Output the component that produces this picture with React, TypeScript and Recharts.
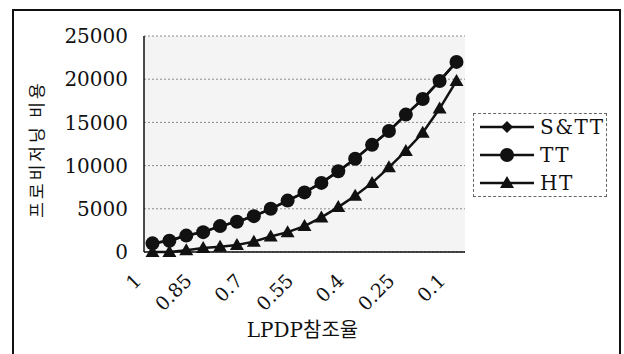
import React from 'react';
import { LineChart, Line, XAxis, YAxis, CartesianGrid } from 'recharts';

// LPDP reference rate (x categories) and provisioning cost per scheme
const rates = ['1', '0.95', '0.9', '0.85', '0.8', '0.75', '0.7', '0.65', '0.6', '0.55', '0.5', '0.45', '0.4', '0.35', '0.3', '0.25', '0.2', '0.15', '0.1'];
const sttCost = [1000, 1300, 1900, 2300, 3000, 3500, 4150, 5000, 5950, 6900, 8000, 9350, 10800, 12400, 14000, 15900, 17700, 19800, 22000];
const ttCost = [1000, 1300, 1900, 2300, 3000, 3500, 4150, 5000, 5950, 6900, 8000, 9350, 10800, 12400, 14000, 15900, 17700, 19800, 22000];
const htCost = [0, 0, 200, 450, 600, 800, 1200, 1800, 2300, 3000, 4000, 5200, 6500, 8000, 9800, 11700, 13800, 16600, 19800];
const costTicks = [0, 5000, 10000, 15000, 20000, 25000];
const seriesNames = ['S&TT', 'TT', 'HT'];

const data = rates.map((rate, i) => ({ rate, stt: sttCost[i], tt: ttCost[i], ht: htCost[i] }));

const SERIF = '"DejaVu Serif", "Liberation Serif", serif';
const KR = '"Noto Sans CJK KR", sans-serif';
const INK = '#111';

const diamond = (cx: number, cy: number) => `${cx},${cy - 6} ${cx + 6},${cy} ${cx},${cy + 6} ${cx - 6},${cy}`;
const triangle = (cx: number, cy: number) => `${cx},${cy - 7} ${cx + 7},${cy + 5} ${cx - 7},${cy + 5}`;

const DiamondDot = (p: any) => <polygon key={`d${p.index}`} points={diamond(p.cx, p.cy)} fill={INK} />;
const CircleDot = (p: any) => <circle key={`c${p.index}`} cx={p.cx} cy={p.cy} r={7} fill={INK} />;
const TriangleDot = (p: any) => <polygon key={`t${p.index}`} points={triangle(p.cx, p.cy)} fill={INK} />;

const RateTick = (p: any) => {
  const x = p.x - 10;
  const y = p.y + 22;
  return (
    <text x={x} y={y} transform={`rotate(-45 ${x} ${y})`} textAnchor="end" fontFamily={SERIF} fontSize={19} fill={INK}>
      {p.payload.value}
    </text>
  );
};

const YTitle = (p: any) => {
  const x = 35;
  const y = p.viewBox.y + p.viewBox.height / 2 + 5;
  return (
    <text x={x} y={y} transform={`rotate(-90 ${x} ${y})`} textAnchor="middle" dominantBaseline="central"
      fontFamily={KR} fontSize={17} letterSpacing={3} fill={INK}>
      프로비저닝 비용
    </text>
  );
};

const XTitle = (p: any) => (
  <text x={p.viewBox.x + p.viewBox.width / 2 - 2} y={337} textAnchor="middle" fontSize={20} fill={INK}>
    <tspan fontFamily={SERIF}>LPDP</tspan>
    <tspan fontFamily={KR}>참조율</tspan>
  </text>
);

function LegendBox() {
  const marks = [DiamondDot, CircleDot, TriangleDot];
  return (
    <div style={{ position: 'absolute', left: 473, top: 113, width: 134, height: 84, border: '1px dashed #666', boxSizing: 'border-box' }}>
      <svg width={134} height={84}>
        {seriesNames.map((name, i) => {
          const cy = 13 + i * 28;
          const Mark = marks[i];
          return (
            <g key={name}>
              <line x1={6} x2={60} y1={cy} y2={cy} stroke={INK} strokeWidth={2.5} />
              <Mark cx={33} cy={cy} index={i} />
              <text x={66} y={cy + 7} fontFamily={SERIF} fontSize={20} letterSpacing={1.5} fill={INK}>{name}</text>
            </g>
          );
        })}
      </svg>
    </div>
  );
}

export default function App() {
  return (
    <div style={{ position: 'absolute', left: 0, top: 0, width: 624, height: 354, overflow: 'hidden', background: '#fff' }}>
      <div style={{ position: 'absolute', left: 12, top: 9, width: 609, height: 360, border: '2px solid #111', boxSizing: 'border-box' }} />
      <LineChart width={624} height={354} data={data} margin={{ top: 36, right: 159, left: 0, bottom: 0 }}>
        <CartesianGrid vertical={false} stroke="#8a8a8a" strokeDasharray="2 2" fill="#f4f4f4" />
        <XAxis dataKey="rate" interval={2} height={102} padding={{ left: 8.5, right: 8.5 }}
          axisLine={{ stroke: INK, strokeWidth: 1.5 }} tickLine={false} tick={<RateTick />}
          label={{ content: XTitle }} />
        <XAxis xAxisId="top" dataKey="rate" orientation="top" height={0} tick={false} tickLine={false}
          axisLine={{ stroke: '#333', strokeWidth: 1.5 }} />
        <YAxis width={144} domain={[0, 25000]} ticks={costTicks} interval={0} tickLine={false} tickSize={8} tickMargin={8}
          axisLine={{ stroke: INK, strokeWidth: 1.5 }} tick={{ fontFamily: SERIF, fontSize: 20, fill: INK }}
          label={{ content: YTitle }} />
        <YAxis yAxisId="right" orientation="right" width={0} tick={false} tickLine={false}
          axisLine={{ stroke: '#444', strokeWidth: 1.5 }} />
        <Line dataKey="stt" name={seriesNames[0]} stroke={INK} strokeWidth={2.5} dot={DiamondDot} isAnimationActive={false} />
        <Line dataKey="tt" name={seriesNames[1]} stroke={INK} strokeWidth={2.5} dot={CircleDot} isAnimationActive={false} />
        <Line dataKey="ht" name={seriesNames[2]} stroke={INK} strokeWidth={2.5} dot={TriangleDot} isAnimationActive={false} />
      </LineChart>
      <LegendBox />
    </div>
  );
}
